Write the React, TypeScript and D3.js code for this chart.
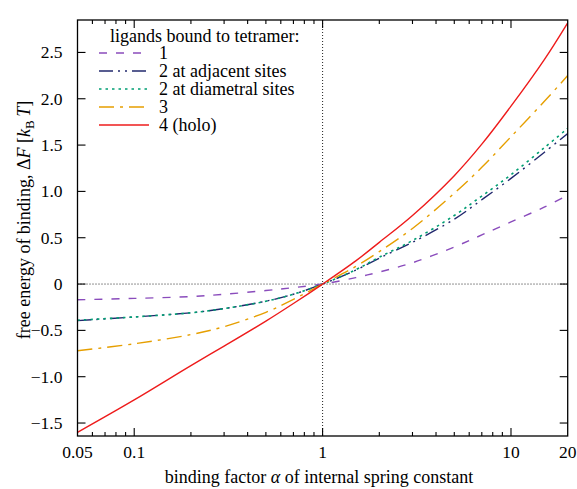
import React from "react";
import * as d3 from "d3";

const alphas = [0.05, 0.1, 0.2, 0.3, 0.5, 0.7, 1, 1.5, 2, 3, 5, 7, 10, 15, 20];
const one = [-0.17, -0.155, -0.135, -0.11, -0.07, -0.038, 0, 0.07, 0.13, 0.23, 0.4, 0.53, 0.67, 0.83, 0.96];
const twoAdjacent = [-0.395, -0.355, -0.31, -0.265, -0.185, -0.11, 0, 0.15, 0.28, 0.45, 0.7, 0.91, 1.14, 1.42, 1.625];
const twoDiametral = [-0.39, -0.355, -0.31, -0.265, -0.185, -0.11, 0, 0.155, 0.29, 0.47, 0.74, 0.95, 1.18, 1.47, 1.68];
const three = [-0.72, -0.645, -0.545, -0.46, -0.305, -0.165, 0, 0.19, 0.35, 0.6, 0.98, 1.26, 1.59, 1.97, 2.25];
const four = [-1.6, -1.25, -0.88, -0.67, -0.4, -0.21, 0, 0.25, 0.45, 0.74, 1.17, 1.51, 1.92, 2.42, 2.82];

const xMajorTicks = [0.1, 1, 10];
const xLabelTicks = [0.05, 0.1, 1, 10, 20];
const xMinorTicks = [0.06, 0.07, 0.08, 0.09, 0.2, 0.3, 0.4, 0.5, 0.6, 0.7, 0.8, 0.9, 2, 3, 4, 5, 6, 7, 8, 9];
const yTicks = [-1.5, -1, -0.5, 0, 0.5, 1, 1.5, 2, 2.5];

const legendTitle = "ligands bound to tetramer:";
const seriesNames = ["1", "2 at adjacent sites", "2 at diametral sites", "3", "4 (holo)"];
const seriesValues = [one, twoAdjacent, twoDiametral, three, four];
const seriesColors = ["#8a4cbc", "#22286e", "#009e73", "#e69f00", "#ee1c1c"];
const seriesDash = ["8,9", "14,5,2,5,2,5", "2.5,4", "15,6,3,6", ""];
const seriesWidth = [1.4, 1.4, 1.6, 1.4, 1.4];

const L = 77.5, R = 567.7, T = 20, B = 436;
const FONT = '"Liberation Serif", "Times New Roman", "DejaVu Serif", serif';
const tStyle = { fontFamily: FONT, fontSize: 18 } as React.CSSProperties;
const tickStyle = { fontFamily: FONT, fontSize: 17.5 } as React.CSSProperties;

export default function App() {
  const x = d3.scaleLog().domain([0.05, 20]).range([L, R]);
  const y = d3.scaleLinear().domain([-1.64, 2.85]).range([B, T]);
  const line = d3
    .line<[number, number]>()
    .x((d) => x(d[0]))
    .y((d) => y(d[1]))
    .curve(d3.curveCatmullRom.alpha(0.5));

  const fmtY = (v: number) => (v === 0 ? "0" : (v < 0 ? "\u2212" : "") + Math.abs(v).toFixed(1));
  const fmtX = (v: number) => String(v);

  return (
    <svg width={577} height={489} style={{ position: "absolute", left: 0, top: 0, fontFamily: FONT }}>
      <rect x={0} y={0} width={577} height={489} fill="#fff" />
      <defs>
        <clipPath id="plot">
          <rect x={L} y={T} width={R - L} height={B - T} />
        </clipPath>
      </defs>
      <line x1={L} x2={R} y1={y(0)} y2={y(0)} stroke="#222" strokeWidth={1} strokeDasharray="1,2" />
      <line x1={x(1)} x2={x(1)} y1={T} y2={B} stroke="#222" strokeWidth={1} strokeDasharray="1,2" />

      <g clipPath="url(#plot)">
        {seriesValues.map((vals, i) => (
          <path
            key={i}
            d={line(alphas.map((a, j) => [a, vals[j]] as [number, number])) || ""}
            fill="none"
            stroke={seriesColors[i]}
            strokeWidth={seriesWidth[i]}
            strokeDasharray={seriesDash[i] || undefined}
          />
        ))}
      </g>

      <rect x={L} y={T} width={R - L} height={B - T} fill="none" stroke="#000" strokeWidth={1.3} />

      {xMajorTicks.map((t) => (
        <g key={"xm" + t}>
          <line x1={x(t)} x2={x(t)} y1={B} y2={B - 8} stroke="#000" strokeWidth={1.1} />
          <line x1={x(t)} x2={x(t)} y1={T} y2={T + 8} stroke="#000" strokeWidth={1.1} />
        </g>
      ))}
      {xMinorTicks.map((t) => (
        <g key={"xn" + t}>
          <line x1={x(t)} x2={x(t)} y1={B} y2={B - 4} stroke="#000" strokeWidth={1.1} />
          <line x1={x(t)} x2={x(t)} y1={T} y2={T + 4} stroke="#000" strokeWidth={1.1} />
        </g>
      ))}
      {xLabelTicks.map((t) => (
        <text key={"xl" + t} x={x(t)} y={457.5} textAnchor="middle" style={tickStyle}>
          {fmtX(t)}
        </text>
      ))}

      {yTicks.map((t) => (
        <g key={"y" + t}>
          <line x1={L} x2={L + 8} y1={y(t)} y2={y(t)} stroke="#000" strokeWidth={1.1} />
          <line x1={R} x2={R - 8} y1={y(t)} y2={y(t)} stroke="#000" strokeWidth={1.1} />
          <text x={62.5} y={y(t) + 6} textAnchor="end" style={tickStyle}>
            {fmtY(t)}
          </text>
        </g>
      ))}

      <text x={319} y={483} textAnchor="middle" style={tStyle}>
        binding factor <tspan fontStyle="italic">α</tspan> of internal spring constant
      </text>
      <text transform="translate(30,220) rotate(-90)" textAnchor="middle" style={tStyle}>
        free energy of binding, Δ<tspan fontStyle="italic">F</tspan> [<tspan fontStyle="italic">k</tspan>
        <tspan fontSize={13} dy={4}>B</tspan>
        <tspan dy={-4} fontStyle="italic">{"\u2009T"}</tspan>]
      </text>

      <text x={110} y={42} style={tStyle}>
        {legendTitle}
      </text>
      {seriesNames.map((name, i) => (
        <g key={"lg" + i}>
          <line
            x1={99}
            x2={149}
            y1={53 + i * 18}
            y2={53 + i * 18}
            stroke={seriesColors[i]}
            strokeWidth={seriesWidth[i]}
            strokeDasharray={seriesDash[i] || undefined}
          />
          <text x={159} y={58.5 + i * 18} style={tStyle}>
            {name}
          </text>
        </g>
      ))}
    </svg>
  );
}
